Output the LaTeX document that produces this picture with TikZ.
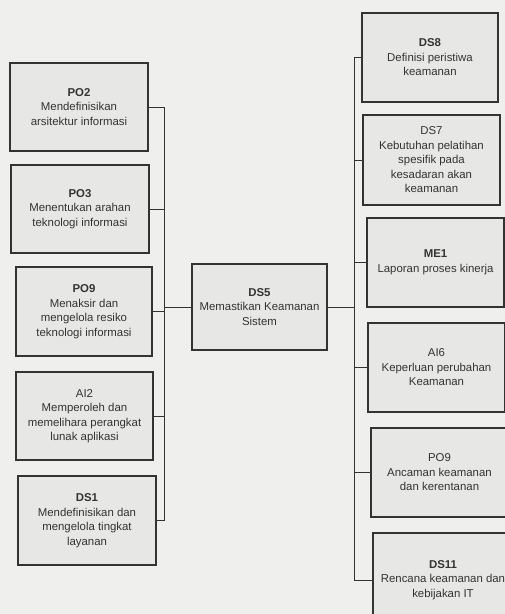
\documentclass[tikz,border=0pt]{standalone}
\usepackage{fontspec}
\setmainfont{Liberation Sans}
\tikzset{
  box/.style={draw=black!80, line width=1.1pt, fill=boxfill, align=center,
    inner sep=2pt, font=\fontsize{11.4}{14.5}\selectfont, text=black!80},
  wire/.style={draw=black!80, line width=0.9pt},
}
\definecolor{paper}{HTML}{EFEFED}
\definecolor{boxfill}{HTML}{E7E7E5}
\begin{document}
\begin{tikzpicture}[x=1pt,y=-1pt]
\useasboundingbox (0,0) rectangle (505,614);
\fill[paper] (0,0) rectangle (505,614);
\clip (0,0) rectangle (505,614);
% left column
\node[box, minimum width=138, minimum height=88] (po2) at (79,107) {\textbf{PO2}\\Mendefinisikan\\arsitektur informasi};
\node[box, minimum width=138, minimum height=88] (po3) at (80,209) {\textbf{PO3}\\Menentukan arahan\\teknologi informasi};
\node[box, minimum width=136, minimum height=89] (po9) at (84,311.5) {\textbf{PO9}\\Menaksir dan\\mengelola resiko\\teknologi informasi};
\node[box, minimum width=137, minimum height=88] (ai2) at (84.5,416) {AI2\\Memperoleh dan\\memelihara perangkat\\lunak aplikasi};
\node[box, minimum width=138, minimum height=89] (ds1) at (87,520.5) {\textbf{DS1}\\Mendefinisikan dan\\mengelola tingkat\\layanan};
% centre
\node[box, minimum width=135, minimum height=86] (ds5) at (259.5,307) {\textbf{DS5}\\Memastikan Keamanan\\Sistem};
% right column
\node[box, minimum width=136, minimum height=89] (ds8) at (430,57.5) {\textbf{DS8}\\Definisi peristiwa\\keamanan};
\node[box, minimum width=137, minimum height=90] (ds7) at (431.5,160) {DS7\\Kebutuhan pelatihan\\spesifik pada\\kesadaran akan\\keamanan};
\node[box, minimum width=137, minimum height=89] (me1) at (435.5,262.5) {\textbf{ME1}\\Laporan proses kinerja};
\node[box, minimum width=137, minimum height=89] (ai6) at (436.5,367.5) {AI6\\Keperluan perubahan\\Keamanan};
\node[box, minimum width=137, minimum height=89] (po9b) at (439.5,472.5) {PO9\\Ancaman keamanan\\dan kerentanan};
\node[box, minimum width=140, minimum height=94] (ds11) at (443,580) {\textbf{DS11}\\Rencana keamanan dan\\kebijakan IT};
% buses
\coordinate (lbus) at (164,0);
\coordinate (rbus) at (354,0);
\draw[wire] (po2.east) -| (lbus |- ds1.east) -- (ds1.east);
\foreach \n in {po3,po9,ai2} \draw[wire] (\n.east) -- (lbus |- \n.east);
\draw[wire] (lbus |- ds5.west) -- (ds5.west);
\draw[wire] (ds5.east) -- (rbus |- ds5.east);
\draw[wire] (ds8.west) -| (rbus |- ds11.west) -- (ds11.west);
\foreach \n in {ds7,me1,ai6,po9b} \draw[wire] (\n.west) -- (rbus |- \n.west);
\end{tikzpicture}
\end{document}
